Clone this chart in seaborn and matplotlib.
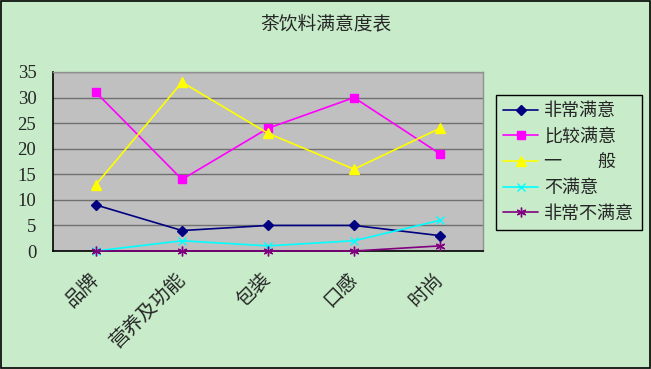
import matplotlib
matplotlib.use("Agg")
import matplotlib.pyplot as plt
import seaborn as sns
import numpy as np
import pandas as pd
from matplotlib.patches import Rectangle

# chart values
categories = ["品牌", "营养及功能", "包装", "口感", "时尚"]
series_names = ["非常满意", "比较满意", "一　　般", "不满意", "非常不满意"]
very_satisfied = [9, 4, 5, 5, 3]
satisfied = [31, 14, 24, 30, 19]
neutral = [13, 33, 23, 16, 24]
unsatisfied = [0, 2, 1, 2, 6]
very_unsatisfied = [0, 0, 0, 0, 1]
yticks = [0, 5, 10, 15, 20, 25, 30, 35]

values = [very_satisfied, satisfied, neutral, unsatisfied, very_unsatisfied]
rows = []
for name, vals in zip(series_names, values):
    for i, v in enumerate(vals):
        rows.append({"series": name, "pos": i, "value": v})
df = pd.DataFrame(rows)

colors = ["#000080", "#FF00FF", "#FFFF00", "#00FFFF", "#800080"]
markers = ["D", "s", "^", "x", (6, 2, 0)]
msizes = [5, 5.5, 6.5, 6, 7]

sns.set_style("white")
plt.rcParams["font.family"] = ["Noto Sans CJK SC", "DejaVu Sans"]

bg = "#C8ECCA"
fig = plt.figure(figsize=(6.51, 3.69), dpi=100, facecolor=bg)
ax = fig.add_axes([53 / 651, 1 - 251 / 369, 430 / 651, 179 / 369])
ax.set_facecolor("#C0C0C0")

for name, c, m, ms in zip(series_names, colors, markers, msizes):
    sub = df[df.series == name]
    sns.lineplot(data=sub, x="pos", y="value", ax=ax, color=c, marker=m,
                 markersize=ms, markeredgecolor=c, markeredgewidth=1.0,
                 linewidth=1.2, label=name, clip_on=False, zorder=3)

ax.set_xlim(-0.5, len(categories) - 0.5)
ax.set_ylim(0, 35)
ax.set_yticks(yticks)
ax.set_yticklabels([str(t) for t in yticks], fontsize=13.5, family="Liberation Serif")
ax.yaxis.grid(True, color="#707070", linewidth=1)
ax.set_axisbelow(True)
ax.set_xlabel("")
ax.set_ylabel("")

ax.set_xticks(range(len(categories)))
ax.set_xticklabels(categories, rotation=45, ha="right", va="center",
                   rotation_mode="anchor", fontsize=14)
ax.tick_params(axis="x", length=0, pad=18)
ax.set_xticks(np.arange(0.5, len(categories) - 0.5, 1), minor=True)
ax.tick_params(axis="x", which="minor", direction="in", length=5, color="black")
ax.tick_params(axis="y", direction="in", length=7, color="black", pad=12)

for side in ["top", "right"]:
    ax.spines[side].set_color("#909090")
    ax.spines[side].set_linewidth(1)
for side in ["left", "bottom"]:
    ax.spines[side].set_color("black")
    ax.spines[side].set_linewidth(1.2)

fig.text(326 / 651, 1 - 24 / 369, "茶饮料满意度表", ha="center", va="center", fontsize=13.5)

leg = ax.legend(loc="upper left", bbox_to_anchor=(496 / 651, 1 - 95 / 369),
                bbox_transform=fig.transFigure, fontsize=13, frameon=True,
                fancybox=False, edgecolor="black", facecolor=bg, framealpha=1,
                handlelength=1.95, handletextpad=0.33, labelspacing=0.42,
                borderpad=0.4, borderaxespad=0)
leg.get_frame().set_linewidth(1)

fig.patches.append(Rectangle((0.002, 0.003), 0.996, 0.994, transform=fig.transFigure,
                             fill=False, edgecolor="black", linewidth=1.2))

fig.savefig("out.png", dpi=100, facecolor=bg)
